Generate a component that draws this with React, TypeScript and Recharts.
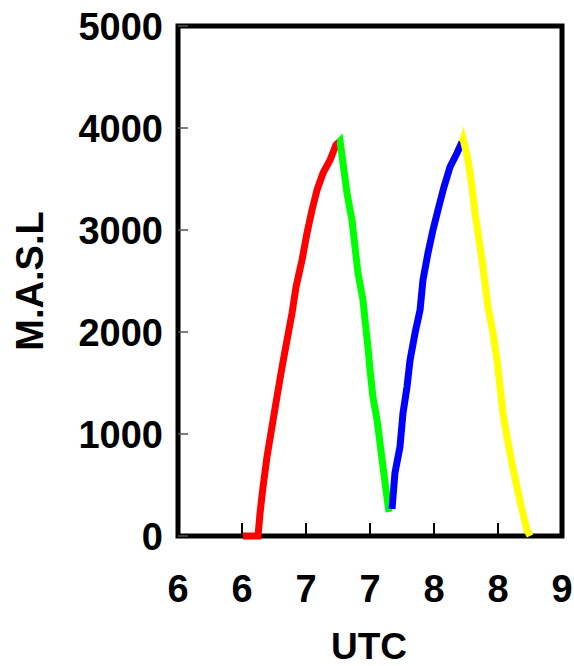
import { LineChart, Line, XAxis, YAxis, ReferenceArea, Label } from 'recharts';

// hours UTC (decimal) and altitude in metres
const ascent1Time = [6.508, 6.625, 6.641, 6.664, 6.695, 6.734, 6.773, 6.813, 6.852, 6.891, 6.922, 6.969, 7.008, 7.047, 7.086, 7.133, 7.188, 7.234, 7.258];
const ascent1Alt = [0, 0, 225, 480, 775, 1069, 1363, 1657, 1922, 2186, 2441, 2706, 2971, 3196, 3392, 3559, 3686, 3833, 3863];

const descent1Time = [7.258, 7.266, 7.289, 7.32, 7.359, 7.383, 7.406, 7.445, 7.461, 7.484, 7.5, 7.523, 7.555, 7.578, 7.602, 7.625, 7.648];
const descent1Alt = [3863, 3873, 3657, 3363, 3098, 2833, 2578, 2314, 2118, 1853, 1627, 1363, 1137, 912, 676, 451, 235];

const ascent2Time = [7.672, 7.695, 7.734, 7.758, 7.789, 7.813, 7.852, 7.891, 7.914, 7.953, 7.992, 8.031, 8.078, 8.125, 8.18, 8.219];
const ascent2Alt = [265, 618, 873, 1206, 1461, 1725, 1990, 2216, 2510, 2775, 3000, 3196, 3422, 3618, 3755, 3863];

const descent2Time = [8.219, 8.227, 8.266, 8.297, 8.32, 8.344, 8.375, 8.398, 8.422, 8.461, 8.492, 8.516, 8.539, 8.57, 8.609, 8.648, 8.688, 8.727, 8.75];
const descent2Alt = [3863, 3892, 3686, 3422, 3167, 2971, 2706, 2480, 2245, 1990, 1725, 1461, 1206, 971, 716, 480, 255, 59, 0];

const xTicks = [6, 6.5, 7, 7.5, 8, 8.5, 9];
const yTicks = [0, 1000, 2000, 3000, 4000, 5000];

const toRows = (t: number[], a: number[]) => t.map((v, i) => ({ t: v, alt: a[i] }));

const font = { fontFamily: '"Liberation Sans", Arial, sans-serif', fontWeight: 'bold' as const };

const XTick = ({ x, y, payload }: any) => (
  <g>
    <line x1={x} x2={x} y1={y} y2={y - 13} stroke="#000" strokeWidth={2} />
    <text x={x} y={y + 66} textAnchor="middle" fontSize={38} fill="#000" style={font}>
      {Math.floor(payload.value)}
    </text>
  </g>
);

const YTick = ({ x, y, payload }: any) => (
  <g>
    <line x1={x} x2={x + 10} y1={y} y2={y} stroke="#555" strokeWidth={1.5} />
    <text x={x - 15} y={y + 14} textAnchor="end" fontSize={38} fill="#000" style={font}>
      {payload.value}
    </text>
  </g>
);

const segments = [
  { data: toRows(ascent1Time, ascent1Alt), color: '#FF0000' },
  { data: toRows(descent1Time, descent1Alt), color: '#00FF00' },
  { data: toRows(ascent2Time, ascent2Alt), color: '#0000FF' },
  { data: toRows(descent2Time, descent2Alt), color: '#FFFF00' },
];

const App = () => {
  return (
    <div style={{ position: 'absolute', left: 0, top: 0, background: '#fff' }}>
      <LineChart width={574} height={666} margin={{ top: 26, right: 12, bottom: 0, left: 0 }}>
        <XAxis
          dataKey="t"
          type="number"
          domain={[6, 9]}
          ticks={xTicks}
          interval={0}
          axisLine={false}
          tickLine={false}
          tickSize={0}
          tickMargin={0}
          tick={<XTick />}
          height={130}
        >
          <Label
            content={() => (
              <text x={369} y={659} textAnchor="middle" fontSize={37} fill="#000" style={font}>
                UTC
              </text>
            )}
          />
        </XAxis>
        <YAxis
          type="number"
          domain={[0, 5000]}
          ticks={yTicks}
          interval={0}
          axisLine={false}
          tickLine={false}
          tickSize={0}
          tickMargin={0}
          tick={<YTick />}
          width={178}
        >
          <Label
            content={() => (
              <text transform="rotate(-90)" x={-281} y={43} textAnchor="middle" fontSize={38} fill="#000" style={font}>
                M.A.S.L
              </text>
            )}
          />
        </YAxis>
        <ReferenceArea x1={6} x2={9} y1={0} y2={5000} fill="none" stroke="#000" strokeWidth={5} />
        {segments.map((s, i) => (
          <Line
            key={i}
            data={s.data}
            dataKey="alt"
            type="linear"
            stroke={s.color}
            strokeWidth={7}
            dot={false}
            activeDot={false}
            isAnimationActive={false}
          />
        ))}
      </LineChart>
    </div>
  );
};

export default App;
